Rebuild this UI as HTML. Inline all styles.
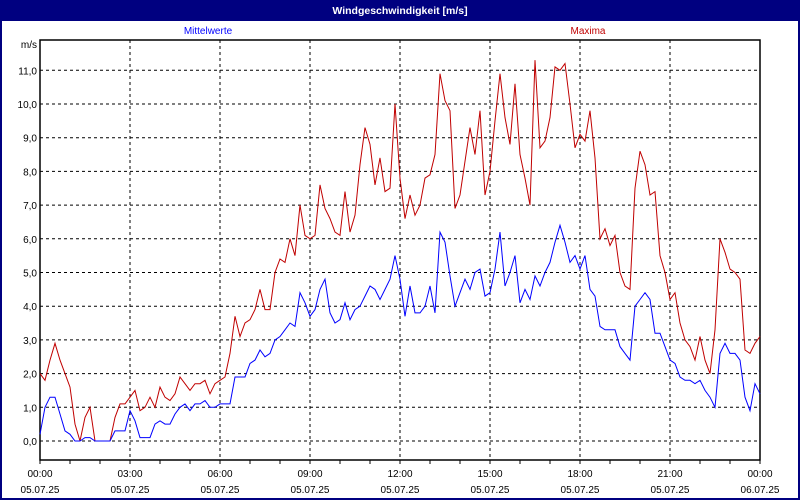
<!DOCTYPE html>
<html><head><meta charset="utf-8"><style>
html,body{margin:0;padding:0;background:#fff;}
svg{display:block;font-family:"Liberation Sans",sans-serif;font-size:10px;}
</style></head><body>
<svg id="s" width="800" height="500" xmlns="http://www.w3.org/2000/svg">
<rect x="0" y="0" width="800" height="500" fill="#000080"/>
<rect x="2" y="21" width="796" height="477" fill="#fff"/>
<text x="400" y="14" fill="#fff" font-weight="bold" text-anchor="middle" font-size="10.5">Windgeschwindigkeit [m/s]</text>
<text x="208" y="34" fill="#0000ff" text-anchor="middle">Mittelwerte</text>
<text x="588" y="34" fill="#c00000" text-anchor="middle">Maxima</text>
<text x="37" y="48" text-anchor="end" fill="#000">m/s</text>
<g id="grid"></g>
<rect x="40" y="40" width="720" height="420" fill="none" stroke="#000" stroke-width="1.5"/>
<polyline id="red" fill="none" stroke="#c00000" stroke-width="1"/>
<polyline id="blue" fill="none" stroke="#0000ff" stroke-width="1"/>
</svg>
<script>
var Y=function(v){return 441-33.7*v;};
var g=document.getElementById('grid'),h='';
for(var i=0;i<=11;i++){var y=Y(i).toFixed(1);
h+='<line x1="40" x2="760" y1="'+y+'" y2="'+y+'" stroke="#000" stroke-dasharray="3,3"/>';
h+='<text x="37" y="'+(+y+4)+'" text-anchor="end">'+i+',0</text>';}
for(var x=130;x<760;x+=90)h+='<line x1="'+x+'" x2="'+x+'" y1="40" y2="460" stroke="#000" stroke-dasharray="3,3"/>';
for(var x=40;x<=760;x+=30)h+='<line x1="'+x+'" x2="'+x+'" y1="460" y2="464" stroke="#000"/>';
var lb=['00:00','03:00','06:00','09:00','12:00','15:00','18:00','21:00','00:00'];
for(var k=0;k<9;k++){var x=40+90*k;h+='<text x="'+x+'" y="477" text-anchor="middle">'+lb[k]+'</text><text x="'+x+'" y="493" text-anchor="middle">'+(k==8?'06.07.25':'05.07.25')+'</text>';}
g.innerHTML=h;
var R=[2.0,1.8,2.4,2.9,2.4,2.0,1.6,0.5,0.0,0.7,1.0,0.0,0,0,0.0,0.7,1.1,1.1,1.3,1.5,0.9,1.0,1.3,1.0,1.6,1.3,1.2,1.4,1.9,1.7,1.5,1.7,1.7,1.8,1.4,1.7,1.8,1.9,2.6,3.7,3.1,3.5,3.6,3.9,4.5,3.9,3.9,5.0,5.4,5.3,6.0,5.5,7.0,6.1,6.0,6.1,7.6,6.9,6.6,6.2,6.1,7.4,6.2,6.7,8.2,9.3,8.8,7.6,8.4,7.4,7.5,10.0,7.8,6.6,7.3,6.7,7.0,7.8,7.9,8.5,10.9,10.1,9.8,6.9,7.3,8.3,9.3,8.5,9.8,7.3,8.0,9.5,10.9,9.6,8.8,10.6,8.5,7.8,7.0,11.3,8.7,8.9,9.6,11.1,11.0,11.2,10.0,8.7,9.1,8.9,9.8,8.4,6.0,6.3,5.8,6.1,5.0,4.6,4.5,7.5,8.6,8.2,7.3,7.4,5.5,5.0,4.2,4.4,3.5,3.0,2.8,2.4,3.1,2.4,2.0,3.3,6.0,5.6,5.1,5.0,4.8,2.7,2.6,2.9,3.1];
var B=[0.2,1.0,1.3,1.3,0.8,0.3,0.2,0.0,0.0,0.1,0.1,0.0,0,0,0.0,0.3,0.3,0.3,0.9,0.6,0.1,0.1,0.1,0.5,0.6,0.5,0.5,0.8,1.0,1.1,0.9,1.1,1.1,1.2,1.0,1.0,1.1,1.1,1.1,1.9,1.9,1.9,2.3,2.4,2.7,2.5,2.6,3.0,3.1,3.3,3.5,3.4,4.4,4.1,3.7,3.9,4.5,4.8,3.8,3.5,3.6,4.1,3.6,3.9,4.0,4.3,4.6,4.5,4.2,4.5,4.8,5.5,4.8,3.7,4.6,3.8,3.8,4.0,4.6,3.8,6.2,5.9,4.9,4.0,4.4,4.8,4.5,5.0,5.1,4.3,4.4,5.1,6.2,4.6,5.0,5.5,4.1,4.5,4.2,4.9,4.6,5.0,5.3,5.9,6.4,5.9,5.3,5.5,5.1,5.5,4.5,4.3,3.4,3.3,3.3,3.3,2.8,2.6,2.4,4.0,4.2,4.4,4.2,3.2,3.2,2.8,2.4,2.3,1.9,1.8,1.8,1.7,1.8,1.5,1.3,1.0,2.6,2.9,2.6,2.6,2.4,1.3,0.9,1.7,1.4];
function pts(a){var n=a.length,s=[];for(var i=0;i<n;i++)s.push((40+720*i/(n-1)).toFixed(1)+','+Y(a[i]).toFixed(1));return s.join(' ');}
document.getElementById('red').setAttribute('points',pts(R));
document.getElementById('blue').setAttribute('points',pts(B));
</script>
</body></html>
